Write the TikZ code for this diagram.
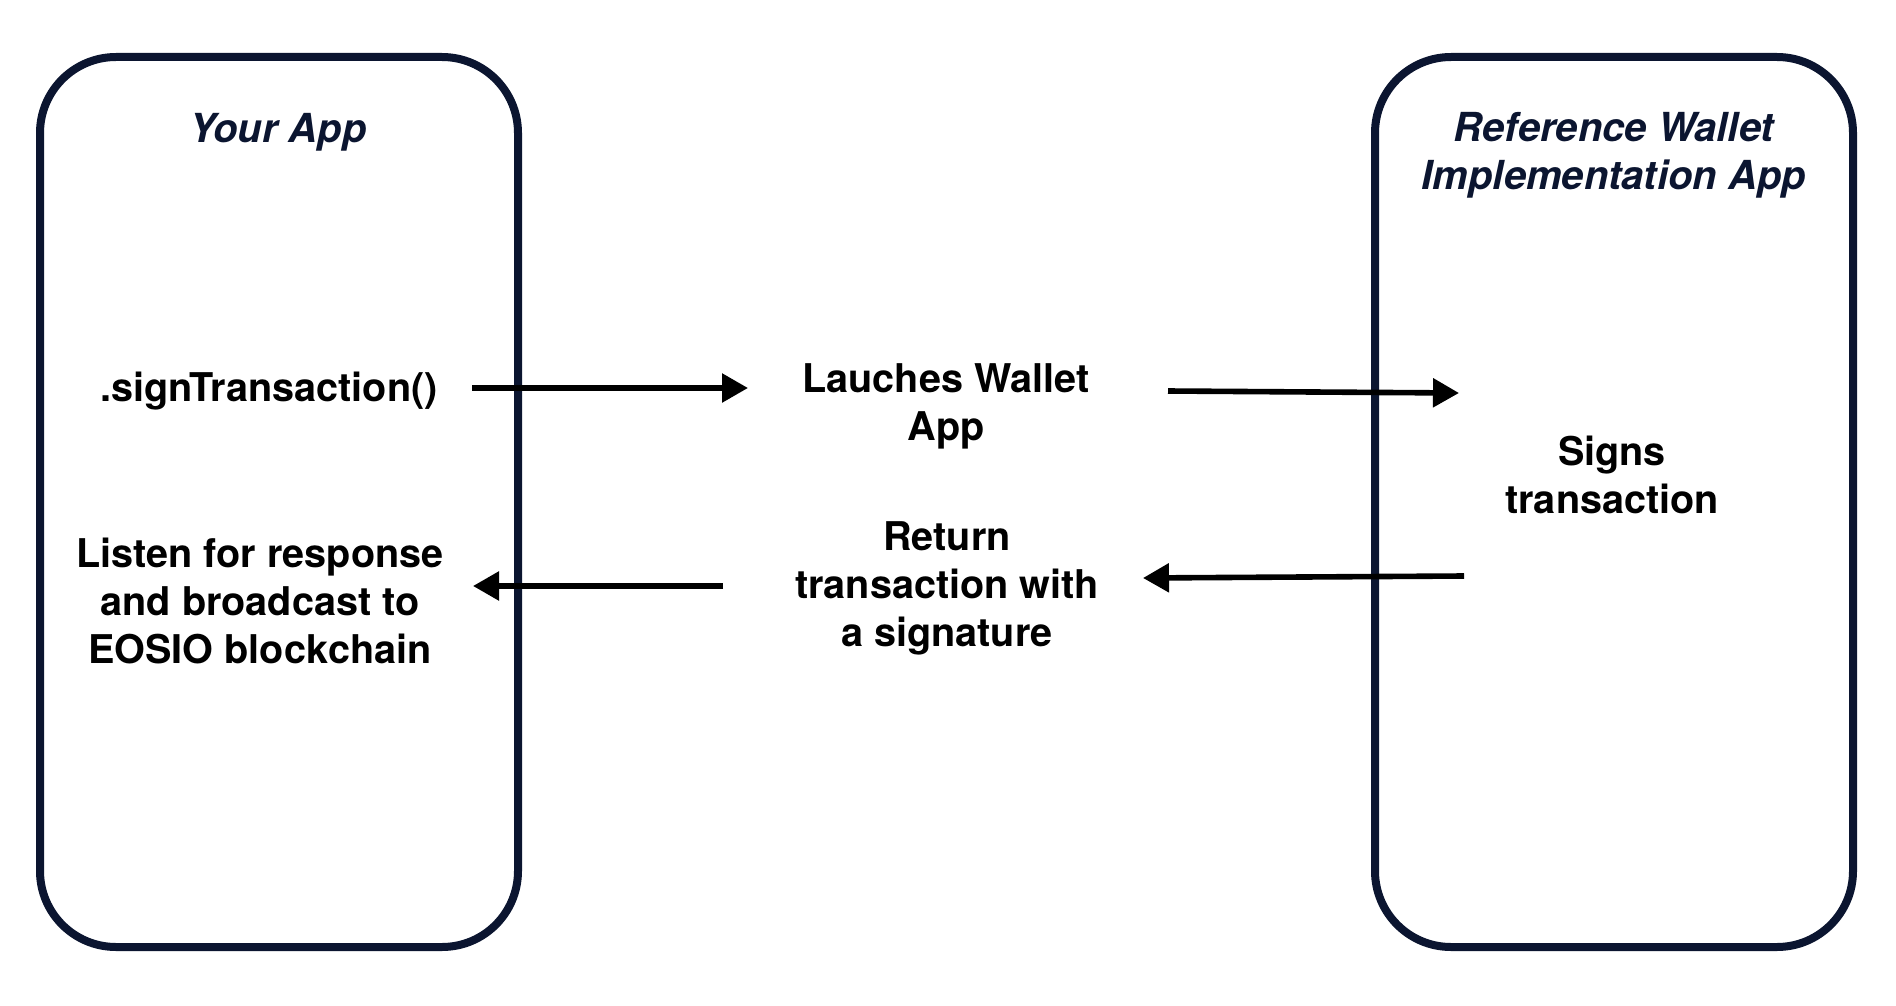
\documentclass[tikz,border=0pt]{standalone}
\usepackage{fontspec}
\setmainfont{TeX Gyre Heros}
\usetikzlibrary{arrows.meta}
\definecolor{navy}{RGB}{11,21,48}
\tikzset{
  appbox/.style={draw=navy, line width=4pt, rounded corners=38pt, minimum width=239pt, minimum height=445pt, inner sep=0pt},
  lbl/.style={font=\fontsize{19.8}{24}\selectfont\bfseries, align=center, inner sep=0pt, text=black},
  ttl/.style={font=\fontsize{20}{24}\selectfont\bfseries\itshape, align=center, inner sep=0pt, text=navy},
  flow/.style={line width=2.8pt, draw=black, -{Triangle[length=13pt,width=14pt]}}
}
\begin{document}
\begin{tikzpicture}[x=0.5pt,y=-0.5pt]
\useasboundingbox (0,0) rectangle (1896,1006);
% boxes
\node[appbox] (yourapp) at (279,502) {};
\node[appbox] (wallet) at (1614,502) {};
% titles
\node[ttl, anchor=base] (t1) at (278,143) {Your App};
\node[ttl, anchor=north] (t2) at (1614,112) {Reference Wallet\\Implementation App};
% labels
\node[lbl, anchor=base] (sign) at (269,401) {.signTransaction()};
\node[lbl, anchor=north] (listen) at (260,538) {Listen for response\\and broadcast to\\EOSIO blockchain};
\node[lbl, anchor=north] (launch) at (946,363) {Lauches Wallet\\App};
\node[lbl, anchor=north] (ret) at (947,521) {Return\\transaction with\\a signature};
\node[lbl, anchor=north] (signs) at (1612,436) {Signs\\transaction};
% arrow ends
\coordinate (a1s) at (472,388);
\coordinate (a1e) at (748,388);
\coordinate (a2s) at (1168,391);
\coordinate (a2e) at (1459,393);
\coordinate (a3s) at (1464,576);
\coordinate (a3e) at (1143,578);
\coordinate (a4s) at (723,586);
\coordinate (a4e) at (473,586);
\draw[flow] (a1s) -- (a1e);
\draw[flow] (a2s) -- (a2e);
\draw[flow] (a3s) -- (a3e);
\draw[flow] (a4s) -- (a4e);
\end{tikzpicture}
\end{document}
